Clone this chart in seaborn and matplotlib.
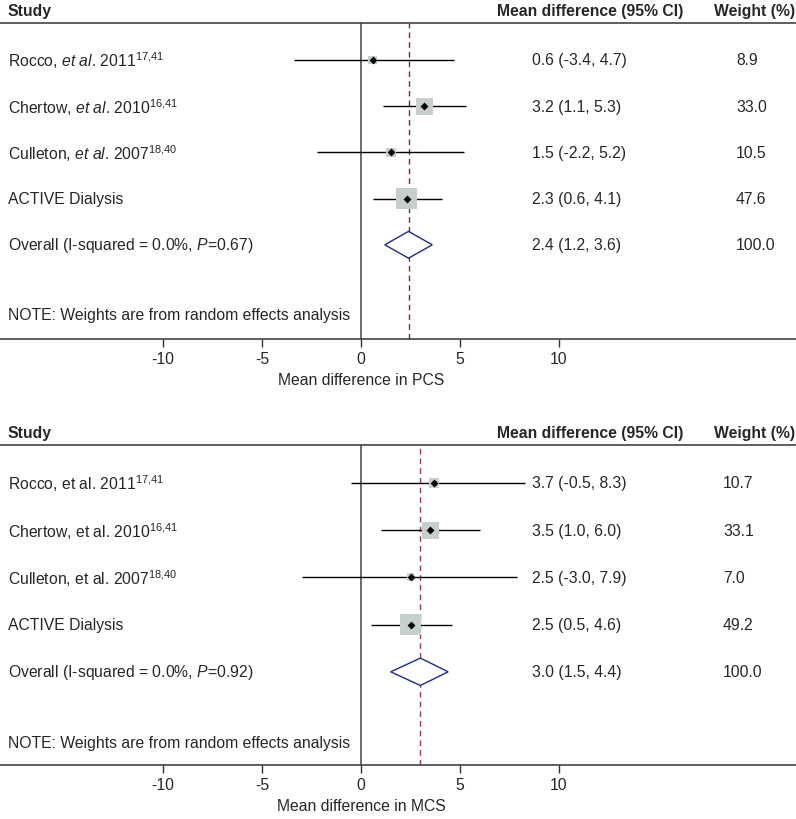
import numpy as np
import pandas as pd
import matplotlib
matplotlib.use("Agg")
import matplotlib.pyplot as plt
import seaborn as sns
from matplotlib.transforms import offset_copy

# ---------------- data ----------------
pcs_labels = [r"Rocco, $\mathit{et\ al}$. 2011$^{17{,}41}$",
              r"Chertow, $\mathit{et\ al}$. 2010$^{16{,}41}$",
              r"Culleton, $\mathit{et\ al}$. 2007$^{18{,}40}$",
              "ACTIVE Dialysis"]
pcs_est = [0.6, 3.2, 1.5, 2.3]
pcs_lo = [-3.4, 1.1, -2.2, 0.6]
pcs_hi = [4.7, 5.3, 5.2, 4.1]
pcs_weight = [8.9, 33.0, 10.5, 47.6]
pcs_overall = [2.4, 1.2, 3.6]
pcs_overall_label = r"Overall (I-squared = 0.0%, $\mathit{P}$=0.67)"
pcs_xlabel = "Mean difference in PCS"

mcs_labels = [r"Rocco, et al. 2011$^{17{,}41}$",
              r"Chertow, et al. 2010$^{16{,}41}$",
              r"Culleton, et al. 2007$^{18{,}40}$",
              "ACTIVE Dialysis"]
mcs_est = [3.7, 3.5, 2.5, 2.5]
mcs_lo = [-0.5, 1.0, -3.0, 0.5]
mcs_hi = [8.3, 6.0, 7.9, 4.6]
mcs_weight = [10.7, 33.1, 7.0, 49.2]
mcs_overall = [3.0, 1.5, 4.4]
mcs_overall_label = r"Overall (I-squared = 0.0%, $\mathit{P}$=0.92)"
mcs_xlabel = "Mean difference in MCS"

xticks = [-10, -5, 0, 5, 10]
note_text = "NOTE: Weights are from random effects analysis"

# ---------------- style ----------------
sns.set_theme(style="white")
plt.rcParams["font.family"] = ["Liberation Sans", "DejaVu Sans"]
plt.rcParams["mathtext.fontset"] = "custom"
plt.rcParams["mathtext.rm"] = "Liberation Sans"
plt.rcParams["mathtext.it"] = "Liberation Sans:italic"
plt.rcParams["mathtext.bf"] = "Liberation Sans:bold"
plt.rcParams["mathtext.sf"] = "Liberation Sans"

FS = 11.3
W, H = 796, 820
fig = plt.figure(figsize=(W / 100, H / 100), dpi=100)

SQ = "#c6cfcb"
DIA = "#1f2a80"
LINE = "#333333"


def panel(top_px, bot_px, row0_px, step_px, labels, est, lo, hi, weight, overall,
          overall_label, xlabel, wt_x, refcol):
    ax = fig.add_axes([0, 1 - bot_px / H, 1, (bot_px - top_px) / H])
    x0_px, ppu = 361, 19.8
    ax.set_xlim(-x0_px / ppu, (W - x0_px) / ppu)
    ax.set_ylim((bot_px - row0_px) / step_px, (top_px - row0_px) / step_px)

    rows = np.arange(len(labels))
    df = pd.DataFrame({"row": rows, "est": est, "lo": lo, "hi": hi, "w": weight})

    # reference lines
    ax.axvline(0, color="#444444", lw=1.1, zorder=1)
    ax.axvline(overall[0], color=refcol, lw=1.0, ls=(0, (4, 3)), zorder=1)

    # CI lines
    ax.hlines(df["row"], df["lo"], df["hi"], color="black", lw=1.0, zorder=2)
    # weight squares (area proportional to weight)
    k = 4.6
    sns.scatterplot(data=df, x="est", y="row", size="w",
                    sizes=(k * min(weight), k * max(weight)),
                    size_norm=(min(weight), max(weight)),
                    marker="s", color=SQ, linewidth=0, legend=False,
                    ax=ax, zorder=3)
    # point estimates
    sns.scatterplot(data=df, x="est", y="row", marker="D", color="black",
                    s=16, linewidth=0, legend=False, ax=ax, zorder=4)

    # overall diamond
    yo = len(labels)
    hh = 0.29
    e, l, h = overall
    ax.fill([l, e, h, e, l], [yo, yo - hh, yo, yo + hh, yo], facecolor="white",
            edgecolor=DIA, lw=1.0, zorder=3)

    ytr = ax.get_yaxis_transform()
    # left labels
    for r, lab in enumerate(labels + [overall_label]):
        ax.text(8 / W, r, lab, transform=ytr, fontsize=FS, va="center", ha="left")
    ax.text(8 / W, yo + 1.5, note_text, transform=ytr, fontsize=FS,
            va="center", ha="left")
    # right columns
    for r in range(len(labels)):
        ax.text(532 / W, r, f"{est[r]:.1f} ({lo[r]:.1f}, {hi[r]:.1f})",
                transform=ytr, fontsize=FS, va="center", ha="left")
        ax.text(wt_x / W, r, f"{weight[r]:.1f}", transform=ytr, fontsize=FS,
                va="center", ha="left")
    ax.text(532 / W, yo, f"{e:.1f} ({l:.1f}, {h:.1f})", transform=ytr,
            fontsize=FS, va="center", ha="left")
    ax.text(wt_x / W, yo, "100.0", transform=ytr, fontsize=FS, va="center", ha="left")

    # headers
    htr = offset_copy(ax.transAxes, fig=fig, y=12, units="dots")
    ax.text(8 / W, 1, "Study", transform=htr, fontsize=FS, fontweight="bold",
            va="center", ha="left")
    ax.text(497 / W, 1, "Mean difference (95% CI)", transform=htr, fontsize=FS,
            fontweight="bold", va="center", ha="left")
    ax.text(714 / W, 1, "Weight (%)", transform=htr, fontsize=FS,
            fontweight="bold", va="center", ha="left")

    # axes styling
    for s in ["left", "right"]:
        ax.spines[s].set_visible(False)
    for s in ["top", "bottom"]:
        ax.spines[s].set_color(LINE)
        ax.spines[s].set_linewidth(1.1)
    ax.set_yticks([])
    ax.set_xticks(xticks)
    ax.set_xticklabels([str(t) for t in xticks], fontsize=FS)
    ax.tick_params(axis="x", direction="out", length=6, width=1.0,
                   color=LINE, pad=3, bottom=True)
    ax.set_xlabel("")
    ax.set_ylabel("")
    lt = offset_copy(ax.get_xaxis_transform(), fig=fig, y=-41, units="dots")
    ax.text(0, 0, xlabel, transform=lt, fontsize=FS, ha="center", va="center")
    return ax


panel(24, 340, 61, 46.2, pcs_labels, pcs_est, pcs_lo, pcs_hi, pcs_weight,
      pcs_overall, pcs_overall_label, pcs_xlabel, 736, "#8a1c3c")
panel(446, 766, 484, 47.2, mcs_labels, mcs_est, mcs_lo, mcs_hi, mcs_weight,
      mcs_overall, mcs_overall_label, mcs_xlabel, 723, "#8c3a66")

fig.savefig("out.png", dpi=100)
